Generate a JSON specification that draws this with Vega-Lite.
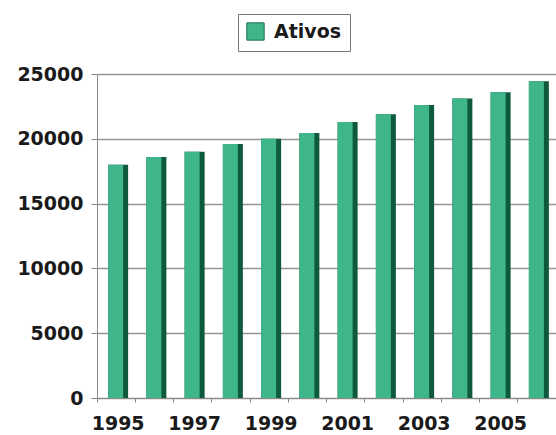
{
  "$schema": "https://vega.github.io/schema/vega-lite/v6.json",
  "width": 459,
  "height": 324,
  "autosize": {"type": "none"},
  "padding": {"left": 97, "top": 74, "right": 0, "bottom": 37},
  "background": "white",
  "data": {"values": [
    {"ano": 1995, "ativos": 18000},
    {"ano": 1996, "ativos": 18600},
    {"ano": 1997, "ativos": 19000},
    {"ano": 1998, "ativos": 19600},
    {"ano": 1999, "ativos": 20000},
    {"ano": 2000, "ativos": 20450},
    {"ano": 2001, "ativos": 21300},
    {"ano": 2002, "ativos": 21900},
    {"ano": 2003, "ativos": 22600},
    {"ano": 2004, "ativos": 23100},
    {"ano": 2005, "ativos": 23600},
    {"ano": 2006, "ativos": 24450}
  ]},
  "config": {
    "view": {"stroke": null},
    "axis": {"labelFont": "DejaVu Sans", "labelFontWeight": "bold", "labelFontSize": 19, "labelColor": "#1a1a1a"}
  },
  "encoding": {
    "x": {
      "field": "ano", "type": "ordinal",
      "scale": {"paddingInner": 0, "paddingOuter": 0},
      "axis": {
        "title": null, "labelAngle": 0, "bandPosition": 0, "labelOffset": 2,
        "labelExpr": "datum.value % 2 == 1 ? datum.label : ''",
        "domainColor": "#888", "tickColor": "#888", "tickSize": 4, "labelPadding": 12
      }
    },
    "y": {
      "field": "ativos", "type": "quantitative",
      "scale": {"domain": [0, 25000]},
      "axis": {
        "title": null, "values": [0, 5000, 10000, 15000, 20000, 25000], "format": "d",
        "grid": true, "gridColor": "#959595", "gridWidth": 1.5,
        "domainColor": "#888", "tickColor": "#888", "tickSize": 6, "labelPadding": 8
      }
    }
  },
  "layer": [
    {
      "mark": {"type": "bar", "width": 20, "xOffset": 2, "color": "#0f5a3c"}
    },
    {
      "mark": {"type": "bar", "width": 15, "xOffset": -0.5},
      "encoding": {
        "color": {
          "datum": "Ativos",
          "scale": {"range": ["#3fb68a"]},
          "legend": {
            "title": null, "orient": "none", "legendX": 141, "legendY": -60,
            "symbolType": "square", "symbolSize": 300, "symbolStrokeColor": "#1f6e4e", "symbolStrokeWidth": 1,
            "labelFont": "DejaVu Sans", "labelFontWeight": "bold", "labelFontSize": 19, "labelColor": "#1a1a1a",
            "labelOffset": 9,
            "strokeColor": "#777", "padding": 8, "fillColor": "white"
          }
        }
      }
    }
  ]
}
